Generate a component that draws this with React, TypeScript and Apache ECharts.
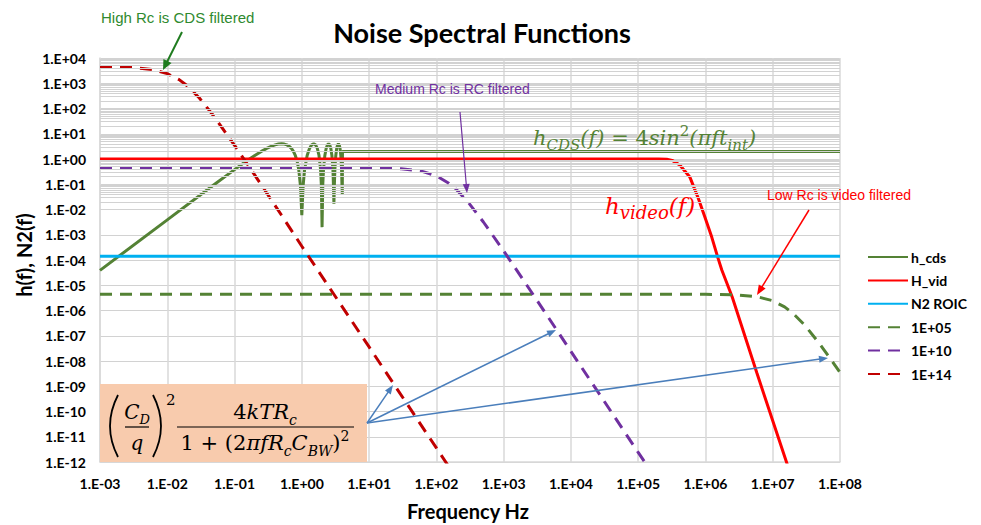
import React, { useEffect, useRef } from 'react';
import * as echarts from 'echarts';

// ---------- data ----------
const X_MIN = 1e-3;
const X_MAX = 1e8;
const Y_MIN = 1e-12;
const Y_MAX = 1e4;

const seriesNames = ['h_cds', 'H_vid', 'N2 ROIC', '1E+05', '1E+10', '1E+14'];
const seriesColors = ['#548235', '#ff0000', '#00b0f0', '#548235', '#7030a0', '#c00000'];
const seriesDashed = [false, false, false, true, true, true];

const hCds: [number, number][] = [
  [0.001, 3.9e-5], [0.01, 3.9e-3], [0.05, 0.098], [0.1, 0.38], [0.15, 0.83], [0.2, 1.38],
  [0.25, 2.0], [0.3, 2.62], [0.35, 3.18], [0.4, 3.62], [0.45, 3.9], [0.5, 4.0], [0.55, 3.9],
  [0.6, 3.62], [0.65, 3.18], [0.7, 2.62], [0.75, 2.0], [0.8, 1.38], [0.85, 0.83], [0.9, 0.38],
  [0.95, 0.098], [0.97, 0.035], [1.0, 0.006], [1.03, 0.035], [1.05, 0.098], [1.1, 0.38],
  [1.2, 1.38], [1.3, 2.62], [1.4, 3.62], [1.5, 4.0], [1.6, 3.62], [1.7, 2.62], [1.8, 1.38],
  [1.9, 0.38], [1.95, 0.098], [2.0, 0.002], [2.05, 0.098], [2.1, 0.38], [2.2, 1.38], [2.3, 2.62],
  [2.4, 3.62], [2.5, 4.0], [2.6, 3.62], [2.7, 2.62], [2.8, 1.38], [2.9, 0.38], [2.95, 0.098],
  [3.0, 0.017], [3.05, 0.098], [3.1, 0.38], [3.2, 1.38], [3.3, 2.62], [3.4, 3.62], [3.5, 4.0],
  [3.6, 3.62], [3.7, 2.62], [3.8, 1.38], [3.9, 0.38], [3.95, 0.098], [4.0, 0.04], [4.02, 2.0],
  [1e8, 2.0],
];

const hVid: [number, number][] = [
  [0.001, 1], [1e5, 1], [2e5, 0.99], [2.66e5, 0.97], [3.2e5, 0.88], [4.15e5, 0.58],
  [5.85e5, 0.195], [7.7e5, 0.031], [9.8e5, 5.0e-3], [1.24e6, 8.1e-4], [1.52e6, 1.3e-4],
  [1.75e6, 4.0e-5], [2.5e6, 3.4e-6], [5.8e6, 3.4e-9], [1.6e7, 1e-12], [2e7, 1.7e-13],
];

const n2Roic: [number, number][] = [[0.001, 1.4e-4], [1e8, 1.4e-4]];

const rc1e05: [number, number][] = [
  [0.001, 4.4e-6], [1e6, 4.4e-6], [3e6, 4.14e-6], [6e6, 3.48e-6], [1e7, 2.43e-6],
  [1.5e7, 1.39e-6], [2e7, 7.7e-7], [3e7, 2.6e-7], [5e7, 4.7e-8], [7e7, 1.37e-8], [1e8, 3.5e-9],
];

const rc1e10: [number, number][] = [
  [0.001, 0.44], [10, 0.44], [30, 0.408], [60, 0.33], [100, 0.216], [153, 0.11], [200, 0.06],
  [300, 0.0188], [500, 3.2e-3], [1000, 2.3e-4], [3000, 3.0e-6], [1e4, 2.4e-8], [3e4, 3.0e-10],
  [1e5, 2.4e-12], [1.3e5, 8.5e-13],
];

const rc1e14: [number, number][] = [
  [0.001, 4400], [0.003, 4300], [0.006, 3480], [0.01, 2400], [0.015, 1390], [0.02, 780],
  [0.03, 260], [0.05, 47], [0.1, 3.5], [0.2, 0.23], [0.5, 5.9e-3], [1, 3.5e-4], [10, 3.6e-8],
  [100, 3.6e-12], [150, 7.1e-13],
];

const seriesData = [hCds, hVid, n2Roic, rc1e05, rc1e10, rc1e14];

const decadeExponents = [-12, -11, -10, -9, -8, -7, -6, -5, -4, -3, -2, -1, 0, 1, 2, 3];
const minorMultipliers = [2, 3, 4, 5, 6, 7, 8, 9];

// ---------- helpers ----------
const sci = (v: number) => {
  const e = Math.round(Math.log10(v));
  return '1.E' + (e < 0 ? '-' : '+') + String(Math.abs(e)).padStart(2, '0');
};

const arrow = (x1: number, y1: number, x2: number, y2: number, color: string, width: number, hl: number, hw: number) => {
  const dx = x2 - x1;
  const dy = y2 - y1;
  const len = Math.sqrt(dx * dx + dy * dy);
  const ux = dx / len;
  const uy = dy / len;
  const bx = x2 - ux * hl;
  const by = y2 - uy * hl;
  return [
    { type: 'line', z: 100, silent: true, shape: { x1, y1, x2: bx + ux * 1, y2: by + uy * 1 }, style: { stroke: color, lineWidth: width } },
    {
      type: 'polygon', z: 100, silent: true,
      shape: { points: [[x2, y2], [bx - uy * hw, by + ux * hw], [bx + uy * hw, by - ux * hw]] },
      style: { fill: color },
    },
  ];
};

const SERIF = 'DejaVu Serif';
const SANS = 'Liberation Sans';
const BOLD = 'Lato';

const text = (x: number, y: number, t: string, style: any) => ({
  type: 'text', x, y, z: 100, silent: true,
  style: { text: t, align: 'left', verticalAlign: 'middle', ...style },
});

const mathRich = (color: string, main: number, sub: number) => ({
  i: { fontFamily: SERIF, fontStyle: 'italic', fontSize: main, fill: color, lineHeight: main + 8, verticalAlign: 'middle' },
  n: { fontFamily: SERIF, fontSize: main, fill: color, lineHeight: main + 8, verticalAlign: 'middle' },
  s: { fontFamily: SERIF, fontStyle: 'italic', fontSize: sub, fill: color, lineHeight: sub, verticalAlign: 'bottom' },
  p: { fontFamily: SERIF, fontSize: sub, fill: color, lineHeight: sub, verticalAlign: 'top' },
});

export default function App() {
  const ref = useRef<HTMLDivElement>(null);

  useEffect(() => {
    if (!ref.current) return;
    const chart = echarts.init(ref.current, null, { renderer: 'svg' });

    const minorValues: number[] = [];
    decadeExponents.forEach((e) => minorMultipliers.forEach((m) => minorValues.push(m * Math.pow(10, e))));

    const series: any[] = [
      {
        type: 'line', name: '__grid', data: [], silent: true, z: 1,
        markLine: {
          silent: true, symbol: ['none', 'none'], label: { show: false }, animation: false,
          lineStyle: { color: '#d2d2d2', width: 1, type: 'solid' },
          emphasis: { disabled: true },
          data: minorValues.map((v) => ({ yAxis: v })),
        },
      },
    ];
    seriesNames.forEach((name, i) => {
      series.push({
        type: 'line', name, data: seriesData[i], showSymbol: false, symbol: 'none', silent: true, z: 3,
        lineStyle: { color: seriesColors[i], width: 3, type: seriesDashed[i] ? [12, 8] : 'solid', cap: 'butt' },
        itemStyle: { color: seriesColors[i] },
        emphasis: { disabled: true },
      });
    });

    const labelStyle = { fontFamily: BOLD, fontWeight: 'bold', fontSize: 14, color: '#000' };

    const graphic: any[] = [
      text(482, 32, 'Noise Spectral Functions', { fontFamily: BOLD, fontWeight: 'bold', fontSize: 27, fill: '#000', align: 'center' }),
      { type: 'text', x: 24, y: 255, rotation: Math.PI / 2, z: 100, silent: true,
        style: { text: 'h(f), N2(f)', fontFamily: BOLD, fontWeight: 'bold', fontSize: 20, fill: '#000', align: 'center', verticalAlign: 'middle' } },
      text(468, 511, 'Frequency Hz', { fontFamily: BOLD, fontWeight: 'bold', fontSize: 20, fill: '#000', align: 'center' }),
      // annotations
      text(101, 17, 'High Rc is CDS filtered', { fontFamily: SANS, fontSize: 15, fill: '#2f8a2f' }),
      ...arrow(182, 32, 163, 70, '#1e7b1e', 2, 10, 4.5),
      text(375, 89, 'Medium Rc is RC filtered', { fontFamily: SANS, fontSize: 14, fill: '#7030a0' }),
      ...arrow(460, 112, 467, 193, '#7030a0', 1.2, 9, 3.5),
      text(767, 195, 'Low Rc is video filtered', { fontFamily: SANS, fontSize: 14, fill: '#ff0000' }),
      ...arrow(809, 210, 757, 295, '#ff0000', 1.5, 10, 4),
      // math labels
      text(533, 138, '{i|h}{s|CDS}{i|(f)}{n| = 4}{i|sin}{p|2}{i|(πft}{s|int}{i|)}', { rich: mathRich('#548235', 21, 15) }),
      text(605, 206, '{i|h}{s|video}{i|(f)}', { rich: mathRich('#ff0000', 23, 18) }),
      // formula box
      { type: 'rect', z: 99, silent: true, shape: { x: 100, y: 384, width: 267, height: 78 }, style: { fill: '#f8cbad' } },
      { type: 'bezierCurve', z: 100, silent: true, shape: { x1: 118, y1: 395, x2: 118, y2: 457, cpx1: 102, cpy1: 426 }, style: { stroke: '#000', lineWidth: 1.8, fill: 'none' } },
      { type: 'bezierCurve', z: 100, silent: true, shape: { x1: 153, y1: 395, x2: 153, y2: 457, cpx1: 169, cpy1: 426 }, style: { stroke: '#000', lineWidth: 1.8, fill: 'none' } },
      text(137, 412, '{i|C}{s|D}', { rich: mathRich('#000', 20, 13), align: 'center' }),
      { type: 'line', z: 100, silent: true, shape: { x1: 125, y1: 427, x2: 149, y2: 427 }, style: { stroke: '#000', lineWidth: 1.2 } },
      text(137, 443, '{i|q}', { rich: mathRich('#000', 20, 13), align: 'center' }),
      text(166, 400, '2', { fontFamily: SERIF, fontSize: 15, fill: '#000' }),
      text(265, 412, '{n|4}{i|kTR}{s|c}', { rich: mathRich('#000', 21, 14), align: 'center' }),
      { type: 'line', z: 100, silent: true, shape: { x1: 177, y1: 427, x2: 354, y2: 427 }, style: { stroke: '#000', lineWidth: 1.2 } },
      text(265, 443, '{n|1 + (2}{i|πfR}{s|c}{i|C}{s|BW}{n|)}{p|2}', { rich: mathRich('#000', 21, 14), align: 'center' }),
      ...arrow(367, 423, 393, 385, '#4a7ebb', 1.5, 9, 3.5),
      ...arrow(367, 423, 556, 330, '#4a7ebb', 1.5, 9, 3.5),
      ...arrow(367, 423, 828, 358, '#4a7ebb', 1.5, 9, 3.5),
    ];

    chart.setOption({
      animation: false,
      backgroundColor: '#ffffff',
      grid: { left: 100, top: 58, width: 740, height: 404, containLabel: false },
      xAxis: {
        type: 'log', logBase: 10, min: X_MIN, max: X_MAX, interval: 1, splitNumber: 11,
        axisLine: { show: true, lineStyle: { color: '#d9d9d9', width: 1.5 } },
        axisTick: { show: false },
        axisLabel: { ...labelStyle, margin: 14, formatter: sci, showMinLabel: true, showMaxLabel: true },
        splitLine: { show: true, lineStyle: { color: '#d9d9d9', width: 1.5 } },
      },
      yAxis: {
        type: 'log', logBase: 10, min: Y_MIN, max: Y_MAX, interval: 1, splitNumber: 16,
        axisLine: { show: true, lineStyle: { color: '#d9d9d9', width: 1.5 } },
        axisTick: { show: false },
        axisLabel: { ...labelStyle, margin: 14, formatter: sci, showMinLabel: true, showMaxLabel: true },
        splitLine: { show: true, lineStyle: { color: '#d2d2d2', width: 1 } },
      },
      legend: {
        orient: 'vertical', left: 862, top: 245, itemWidth: 40, itemHeight: 14, itemGap: 9.4,
        data: seriesNames, selectedMode: false,
        itemStyle: { opacity: 0 },
        textStyle: { fontFamily: BOLD, fontWeight: 'bold', fontSize: 14, color: '#000', padding: [0, 0, 0, -2] },
      },
      graphic,
      series,
    });

    return () => chart.dispose();
  }, []);

  return <div ref={ref} style={{ position: 'fixed', left: 0, top: 0, width: 981, height: 525, background: '#fff' }} />;
}
